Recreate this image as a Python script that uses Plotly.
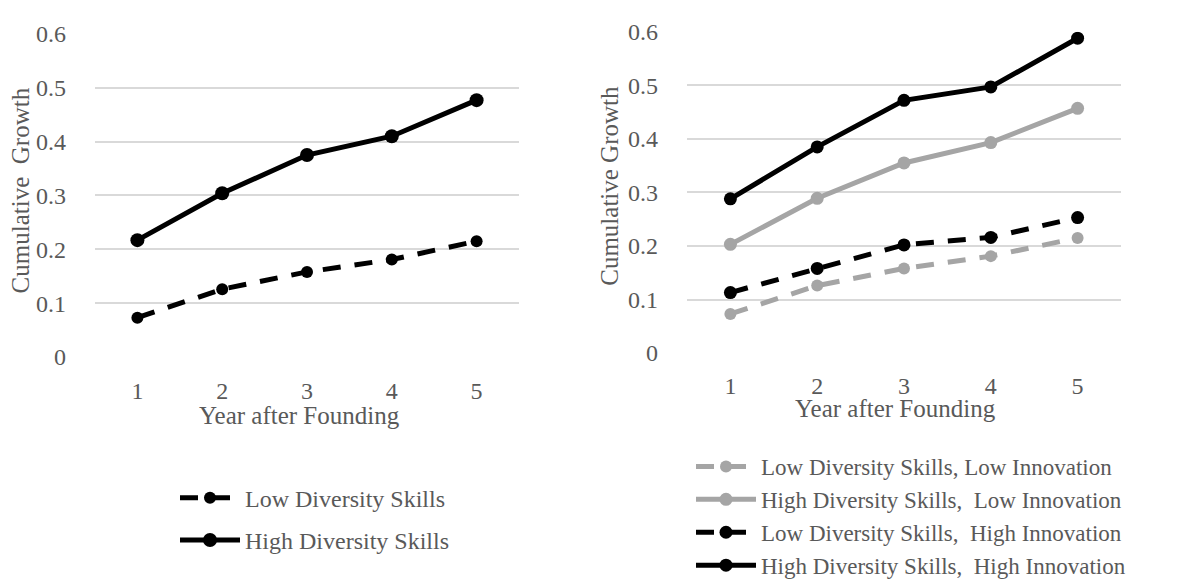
import plotly.graph_objects as go

years = [1, 2, 3, 4, 5]
year_labels = ["1", "2", "3", "4", "5"]

# Left panel
left_low = [0.073, 0.126, 0.158, 0.181, 0.215]
left_high = [0.217, 0.304, 0.375, 0.410, 0.477]

# Right panel
low_div_low_inn = [0.073, 0.126, 0.158, 0.181, 0.215]
high_div_low_inn = [0.203, 0.289, 0.355, 0.393, 0.457]
low_div_high_inn = [0.113, 0.158, 0.202, 0.216, 0.253]
high_div_high_inn = [0.288, 0.385, 0.472, 0.497, 0.588]

y_ticks = [0, 0.1, 0.2, 0.3, 0.4, 0.5, 0.6]
y_tick_labels = ["0", "0.1", "0.2", "0.3", "0.4", "0.5", "0.6"]

BLACK = "#000000"
GRAY = "#A5A5A5"
TXT = "#595959"
GRID = "#D9D9D9"
FONT = "Liberation Serif, Times New Roman, serif"

W, H = 1177, 579

fig = go.Figure()

fig.add_trace(go.Scatter(x=years, y=left_low, name="Low Diversity Skills", mode="lines+markers",
                         line=dict(color=BLACK, width=5, dash="18px,14px"),
                         marker=dict(color=BLACK, size=12), xaxis="x", yaxis="y",
                         legend="legend", legendgroup="a"))
fig.add_trace(go.Scatter(x=years, y=left_high, name="High Diversity Skills", mode="lines+markers",
                         line=dict(color=BLACK, width=5),
                         marker=dict(color=BLACK, size=14), xaxis="x", yaxis="y",
                         legend="legend", legendgroup="b"))

fig.add_trace(go.Scatter(x=years, y=low_div_low_inn, name="Low Diversity Skills, Low Innovation",
                         mode="lines+markers",
                         line=dict(color=GRAY, width=5, dash="18px,14px"),
                         marker=dict(color=GRAY, size=12), xaxis="x2", yaxis="y2", legend="legend2"))
fig.add_trace(go.Scatter(x=years, y=high_div_low_inn, name="High Diversity Skills,\u00a0 Low Innovation",
                         mode="lines+markers",
                         line=dict(color=GRAY, width=5),
                         marker=dict(color=GRAY, size=13), xaxis="x2", yaxis="y2", legend="legend2"))
fig.add_trace(go.Scatter(x=years, y=low_div_high_inn, name="Low Diversity Skills,\u00a0 High Innovation",
                         mode="lines+markers",
                         line=dict(color=BLACK, width=5, dash="18px,14px"),
                         marker=dict(color=BLACK, size=13), xaxis="x2", yaxis="y2", legend="legend2"))
fig.add_trace(go.Scatter(x=years, y=high_div_high_inn, name="High Diversity Skills,\u00a0 High Innovation",
                         mode="lines+markers",
                         line=dict(color=BLACK, width=5),
                         marker=dict(color=BLACK, size=13), xaxis="x2", yaxis="y2", legend="legend2"))

def px_x(p):
    return p / W

def px_y(p):
    return 1 - p / H

xcommon = dict(tickvals=years, ticktext=year_labels, range=[0.5, 5.5], showgrid=False,
               zeroline=False, showline=False, ticks="", tickfont=dict(size=24, color=TXT, family=FONT),
               fixedrange=True)
ycommon = dict(tickvals=y_ticks, ticktext=y_tick_labels, range=[0, 0.6], showgrid=True,
               gridcolor=GRID, gridwidth=1.5, zeroline=False, showline=False, ticks="",
               tickfont=dict(size=24, color=TXT, family=FONT), ticklabelstandoff=28)

fig.update_layout(
    width=W, height=H,
    margin=dict(l=0, r=0, t=0, b=0),
    paper_bgcolor="white", plot_bgcolor="white",
    font=dict(family=FONT, color=TXT),
    xaxis=dict(domain=[px_x(87), px_x(511)], anchor="y", ticklabelstandoff=17, **xcommon),
    yaxis=dict(domain=[px_y(365), px_y(14)], anchor="x", **ycommon),
    xaxis2=dict(domain=[px_x(679), px_x(1113)], anchor="y2", ticklabelstandoff=16, **xcommon),
    yaxis2=dict(domain=[px_y(360.7), px_y(11.7)], anchor="x2", **ycommon),
    legend=dict(x=px_x(167), y=px_y(494), xanchor="left", yanchor="top",
                font=dict(size=24, color=TXT, family=FONT), tracegroupgap=8,
                bgcolor="rgba(0,0,0,0)", itemwidth=60),
    legend2=dict(x=px_x(683), y=px_y(461), xanchor="left", yanchor="top",
                 font=dict(size=23, color=TXT, family=FONT), tracegroupgap=0,
                 bgcolor="rgba(0,0,0,0)", itemwidth=60),
    showlegend=True,
    annotations=[
        dict(text="Year after Founding", x=px_x(291), y=px_y(429), xref="paper", yref="paper",
             showarrow=False, font=dict(size=25, color=TXT, family=FONT), xanchor="center", yanchor="middle"),
        dict(text="Year after Founding", x=px_x(887), y=px_y(421), xref="paper", yref="paper",
             showarrow=False, font=dict(size=25, color=TXT, family=FONT), xanchor="center", yanchor="middle"),
        dict(text="Cumulative\u00a0 Growth", x=px_x(12), y=px_y(184), xref="paper", yref="paper",
             showarrow=False, textangle=-90, font=dict(size=25, color=TXT, family=FONT),
             xanchor="center", yanchor="middle"),
        dict(text="Cumulative Growth", x=px_x(602), y=px_y(179), xref="paper", yref="paper",
             showarrow=False, textangle=-90, font=dict(size=25, color=TXT, family=FONT),
             xanchor="center", yanchor="middle"),
    ],
)

fig.write_html("out.html")
